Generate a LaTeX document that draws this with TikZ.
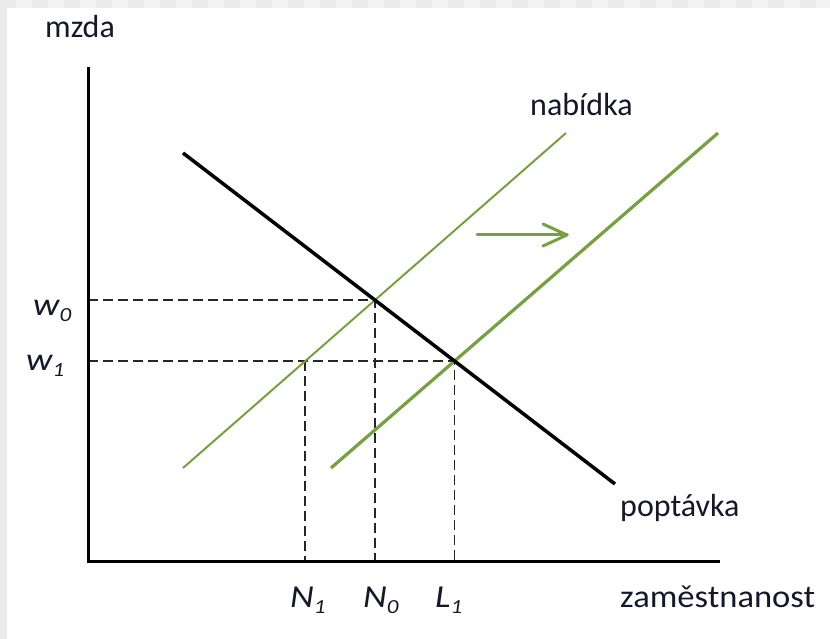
\documentclass[tikz,border=0pt]{standalone}
\usepackage{fontspec}
\setmainfont{Carlito}
\usetikzlibrary{intersections,calc}
\definecolor{grn}{HTML}{76A141}
\definecolor{txt}{HTML}{17172C}
\definecolor{chkA}{HTML}{EBEBEB}
\definecolor{chkB}{HTML}{F3F3F3}
\newcommand\mysub[1]{\raisebox{-6pt}{\fontsize{20}{20}\selectfont #1}}
\begin{document}
\begin{tikzpicture}[x=1pt,y=-1pt,
  lbl/.style={inner sep=0pt, anchor=base west, text=txt, font=\fontsize{32}{32}\selectfont},
  ital/.style={inner sep=0pt, anchor=base west, text=txt, font=\fontsize{32}{32}\selectfont\itshape},
  axisline/.style={line width=3pt, black},
  demline/.style={line width=3.5pt, black},
  supthin/.style={line width=2pt, grn},
  supthick/.style={line width=3.2pt, grn},
  shiftarrow/.style={line width=3pt, grn, line cap=round},
  guide/.style={line width=1.9pt, black!85, dash pattern=on 10pt off 5pt}
]
\useasboundingbox (0,0) rectangle (830,639);
\fill[white] (0,0) rectangle (830,639);
% checkered strips
\fill[chkA] (0,0) rectangle (7,639);
\foreach \i in {0,...,51}{
  \pgfmathtruncatemacro\r{mod(\i,2)}
  \ifnum\r=0 \fill[chkA] (\i*16,0) rectangle (\i*16+16,8);
  \else \fill[chkB] (\i*16,0) rectangle (\i*16+16,8); \fi
}
% coordinates
\coordinate (O) at (88,561);
\coordinate (ytop) at (88,67);
\coordinate (xend) at (720,561);
\coordinate (d1) at (183,153);
\coordinate (d2) at (615,484);
\coordinate (s1a) at (183,468);
\coordinate (s1b) at (566,133);
\coordinate (s2a) at (331,468);
\coordinate (s2b) at (718,133);
\coordinate (ar1) at (477,235);
\coordinate (ar2) at (567,235);
% curves
\path[name path=dem] (d1) -- (d2);
\path[name path=sone] (s1a) -- (s1b);
\path[name path=stwo] (s2a) -- (s2b);
\path[name intersections={of=dem and sone, by=E0}];
\path[name intersections={of=dem and stwo, by=E1}];
\path[name path=wone] (O |- E1) -- (E1);
\path[name intersections={of=wone and sone, by=A}];
% guides
\draw[guide] (O |- E0) -- (E0) -- (E0 |- O);
\draw[guide] (O |- E1) -- (E1) -- (E1 |- O);
\draw[guide] (A) -- (A |- O);
% lines
\draw[supthin] (s1a) -- (s1b);
\draw[supthick] (s2a) -- (s2b);
\draw[demline] (d1) -- (d2);
\draw[axisline] (ytop) -- (O) -- (xend);
% arrow
\draw[shiftarrow] (ar1) -- (ar2);
\draw[shiftarrow, line join=round] ($(ar2)+(-24,-11)$) -- (ar2) -- ($(ar2)+(-24,11)$);
% labels
\node[lbl] (mzda) at (45,38) {mzda};
\node[lbl] (nab) at (530,116) {nabídka};
\node[lbl] (pop) at (620,516) {poptávka};
\node[lbl] (zam) at (620,607) {\scalebox{1.08}[1]{zaměstnanost}};
\node[ital] (w0) at (33,315) {\scalebox{1.15}[1]{w\mysub{0}}};
\node[ital] (w1) at (26,370) {\scalebox{1.15}[1]{w\mysub{1}}};
\node[ital] (N1) at (290,607) {\scalebox{1.15}[1]{N\mysub{1}}};
\node[ital] (N0) at (363,607) {\scalebox{1.15}[1]{N\mysub{0}}};
\node[ital] (L1) at (435,607) {\scalebox{1.15}[1]{L\mysub{1}}};
\end{tikzpicture}
\end{document}
